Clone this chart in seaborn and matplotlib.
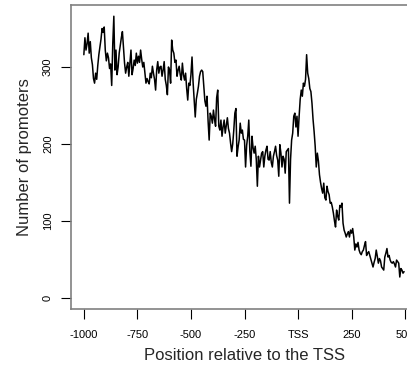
import numpy as np
import matplotlib
matplotlib.use("Agg")
import matplotlib.pyplot as plt
import seaborn as sns

counts = [
    316, 338, 322, 330, 344, 318, 333, 312, 303, 285,
    279, 292, 284, 302, 316, 326, 336, 350, 345, 352,
    322, 308, 318, 312, 298, 304, 276, 330, 366, 296,
    322, 290, 300, 318, 328, 338, 346, 325, 305, 292,
    300, 306, 288, 305, 322, 290, 298, 309, 302, 318,
    305, 314, 306, 322, 310, 300, 306, 292, 279, 285,
    281, 278, 292, 286, 301, 292, 284, 270, 296, 307,
    292, 300, 301, 288, 296, 307, 284, 276, 264, 300,
    296, 279, 335, 322, 318, 306, 309, 288, 296, 301,
    290, 283, 305, 290, 283, 292, 272, 257, 279, 276,
    290, 313, 280, 257, 235, 258, 266, 275, 288, 294,
    296, 294, 275, 256, 249, 262, 230, 205, 240, 236,
    227, 244, 232, 223, 260, 270, 223, 218, 231, 210,
    222, 231, 214, 224, 234, 220, 214, 201, 190, 200,
    218, 240, 246, 184, 196, 205, 227, 214, 218, 206,
    205, 170, 198, 210, 231, 190, 171, 210, 195, 188,
    197, 180, 145, 184, 170, 179, 188, 190, 170, 184,
    192, 197, 180, 179, 190, 176, 170, 184, 190, 197,
    185, 179, 158, 199, 188, 170, 184, 180, 162, 190,
    192, 194, 123, 180, 205, 214, 236, 240, 222, 236,
    210, 236, 258, 270, 262, 279, 275, 284, 316, 292,
    285, 272, 268, 253, 232, 216, 197, 170, 188, 178,
    160, 150, 142, 136, 149, 130, 127, 145, 138, 134,
    123, 124, 118, 110, 100, 92, 114, 106, 101, 120,
    118, 123, 97, 88, 84, 79, 83, 86, 79, 88,
    84, 90, 79, 62, 70, 66, 72, 62, 58, 56,
    60, 62, 68, 73, 55, 58, 60, 55, 50, 45,
    40, 46, 51, 62, 54, 45, 51, 48, 40, 38,
    36, 53, 58, 64, 53, 55, 49, 46, 45, 47,
    44, 40, 49, 47, 45, 27, 38, 36, 32, 34,
]
positions = np.arange(-1000, -1000 + 5 * len(counts), 5)

x_ticks = [-1000, -750, -500, -250, 0, 250, 500]
x_tick_labels = ["-1000", "-750", "-500", "-250", "TSS", "250", "500"]
y_ticks = [0, 100, 200, 300]

sns.set_style("white")
plt.rcParams["font.family"] = ["Liberation Sans", "DejaVu Sans"]

fig = plt.figure(figsize=(4.07, 3.65), dpi=100)
# axes run past the right edge of the image, as in the reference crop
ax = fig.add_axes([71 / 407, 56 / 365, (418 - 71) / 407, 304 / 365])

sns.lineplot(x=positions, y=counts, ax=ax, color="black", lw=1.1,
             estimator=None)

ax.set_xlim(-1060, 560)
ax.set_ylim(-14.6, 380.6)

for side in ["left", "bottom", "top", "right"]:
    ax.spines[side].set_color("#808080")
    ax.spines[side].set_linewidth(1.2)

ax.set_xticks(x_ticks)
ax.set_xticklabels(x_tick_labels)
ax.set_yticks(y_ticks)
ax.set_yticklabels([str(v) for v in y_ticks], rotation=90, va="center")
ax.tick_params(bottom=True, left=True, direction="out", length=7,
               width=0.8, color="black", labelsize=8, labelcolor="black")
ax.tick_params(axis="x", pad=8)
ax.tick_params(axis="y", pad=6)

ax.set_xlabel("Position relative to the TSS", fontsize=12, labelpad=6)
ax.set_ylabel("Number of promoters", fontsize=12, labelpad=8)

fig.savefig("out.png", dpi=100)
plt.close(fig)
